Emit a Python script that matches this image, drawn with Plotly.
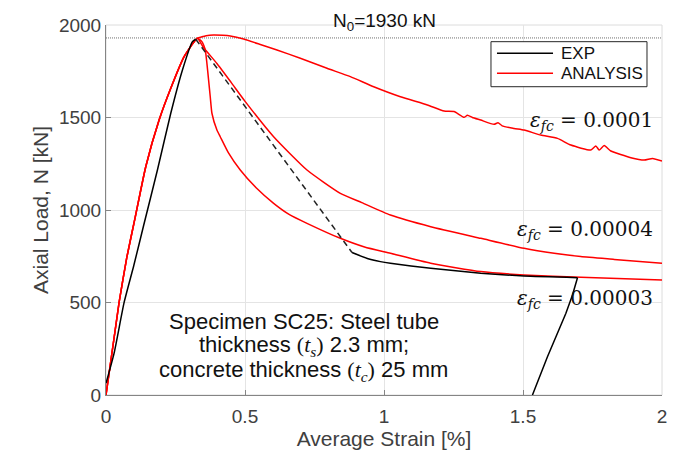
import plotly.graph_objects as go

# ---------------- data ----------------
N0 = 1930  # kN

# shared rising branch of the analysis curves
rise_strain = [0, 0.047, 0.075, 0.105, 0.143, 0.191, 0.233, 0.281, 0.317, 0.329]
rise_load = [0, 500, 745, 960, 1234, 1486, 1658, 1829, 1910, 1928]

# eps_fc = 0.0001
a1_strain = [0.345, 0.36, 0.387, 0.42, 0.447, 0.495, 0.555, 0.615, 0.699, 0.795, 0.879, 0.963,
             1.059, 1.156, 1.216, 1.252, 1.288, 1.30, 1.318, 1.348, 1.396, 1.41, 1.425, 1.468,
             1.504, 1.564, 1.624, 1.672, 1.744, 1.762, 1.774, 1.792, 1.816, 1.888, 1.936, 1.966, 2.0]
a1_load = [1936, 1942, 1946, 1944, 1940, 1924, 1895, 1865, 1820, 1766, 1721, 1666,
           1612, 1568, 1535, 1532, 1501, 1512, 1500, 1486, 1463, 1472, 1455, 1441,
           1432, 1405, 1387, 1351, 1324, 1346, 1324, 1348, 1319, 1283, 1270, 1279, 1265]

# eps_fc = 0.00004
a2_strain = [0.35, 0.399, 0.45, 0.501, 0.603, 0.723, 0.843, 0.92, 1.023, 1.168, 1.348,
             1.504, 1.612, 1.708, 1.828, 2.0]
a2_load = [1880, 1792, 1690, 1586, 1396, 1216, 1090, 1040, 973, 910, 847,
           793, 766, 748, 733, 712]

# eps_fc = 0.00003
a3_strain = [0.345, 0.357, 0.363, 0.369, 0.375, 0.381, 0.399, 0.411, 0.44, 0.483, 0.54,
             0.603, 0.66, 0.723, 0.843, 0.93, 1.023, 1.168, 1.348, 1.504, 1.708, 2.0]
a3_load = [1910, 1865, 1793, 1703, 1612, 1523, 1432, 1396, 1310, 1216, 1120,
           1036, 975, 928, 847, 800, 766, 712, 667, 649, 636, 622]

# experiment
exp_rise_strain = [0, 0.029, 0.065, 0.10, 0.136, 0.185, 0.233, 0.275, 0.311, 0.323]
exp_rise_load = [63, 225, 499, 700, 920, 1216, 1523, 1757, 1910, 1923]
exp_gap_strain = [0.323, 0.885]
exp_gap_load = [1923, 770]
exp_post_strain = [0.885, 0.94, 0.987, 1.023, 1.168, 1.348, 1.504, 1.696]
exp_post_load = [770, 738, 721, 712, 685, 658, 643, 634]
exp_unload_strain = [1.696, 1.678, 1.654, 1.588, 1.534]
exp_unload_load = [634, 541, 441, 207, 0]

x_ticks = [0, 0.5, 1, 1.5, 2]
x_ticktext = ["0", "0.5", "1", "1.5", "2"]
y_ticks = [0, 500, 1000, 1500, 2000]

eps_labels = ["0.0001", "0.00004", "0.00003"]
eps_label_load = [1482, 892, 519]

legend_names = ["EXP", "ANALYSIS"]

spec_lines = [
    "Specimen SC25: Steel tube",
    "thickness <span style='font-family:Liberation Serif'>(<i>t</i><sub><i>s</i></sub>)</span> 2.3 mm;",
    "concrete thickness <span style='font-family:Liberation Serif'>(<i>t</i><sub><i>c</i></sub>)</span> 25 mm",
]
spec_line_load = [400, 265, 128]

# ---------------- figure ----------------
RED = "#ff0000"
BLACK = "#000000"
fig = go.Figure()

# N0 reference line
fig.add_trace(go.Scatter(x=[x_ticks[0], x_ticks[-1]], y=[N0, N0], mode="lines",
                         line=dict(color="#707070", width=1, dash="1px,1px"),
                         showlegend=False, hoverinfo="skip"))

# Analysis curves
for s, l in [(a1_strain, a1_load), (a2_strain, a2_load), (a3_strain, a3_load)]:
    fig.add_trace(go.Scatter(x=rise_strain + s, y=rise_load + l, mode="lines",
                             name="ANALYSIS", showlegend=False,
                             line=dict(color=RED, width=1.5, shape="spline", smoothing=0.5)))

# EXP solid parts
fig.add_trace(go.Scatter(x=exp_rise_strain, y=exp_rise_load, mode="lines", name="EXP",
                         showlegend=False,
                         line=dict(color=BLACK, width=1.5, shape="spline", smoothing=0.5)))
fig.add_trace(go.Scatter(x=exp_post_strain, y=exp_post_load, mode="lines", name="EXP",
                         showlegend=False,
                         line=dict(color=BLACK, width=1.5, shape="spline", smoothing=0.5)))
fig.add_trace(go.Scatter(x=exp_unload_strain, y=exp_unload_load, mode="lines", name="EXP",
                         showlegend=False, line=dict(color=BLACK, width=1.5)))
# EXP dashed part
fig.add_trace(go.Scatter(x=exp_gap_strain, y=exp_gap_load, mode="lines", name="EXP",
                         showlegend=False,
                         line=dict(color="#222222", width=1.5, dash="6px,4px")))

annotations = []
# N0 label
annotations.append(dict(x=0.5, y=1.008, xref="paper", yref="paper",
                        text="N<sub>0</sub>=%d kN" % N0, showarrow=False,
                        xanchor="center", yanchor="middle",
                        font=dict(family="Liberation Sans, Arial", size=19, color="#111111")))
# eps labels
for lab, yv in zip(eps_labels, eps_label_load):
    annotations.append(dict(x=1.975, y=yv, xref="x", yref="y",
                            text="<i>ε</i><sub><i>fc</i></sub> = " + lab, showarrow=False,
                            xanchor="right", yanchor="middle",
                            font=dict(family="DejaVu Serif", size=20, color="#111111")))
# specimen text
for line, yv in zip(spec_lines, spec_line_load):
    annotations.append(dict(x=0.712, y=yv, xref="x", yref="y", text=line, showarrow=False,
                            xanchor="center", yanchor="middle",
                            font=dict(family="Liberation Sans, Arial", size=22, color="#111111")))
# manual legend (box drawn as shape, sample lines as shapes)
leg_text_y = [0.9235, 0.8695]
leg_colors = [BLACK, RED]
for name, yy in zip(legend_names, leg_text_y):
    annotations.append(dict(x=0.8147, y=yy, xref="paper", yref="paper", text=name,
                            showarrow=False, xanchor="left", yanchor="middle",
                            font=dict(family="Liberation Sans, Arial", size=17, color="#111111")))

shapes = [dict(type="rect", xref="paper", yref="paper", x0=0, y0=0, x1=1, y1=1,
               line=dict(color="#dcdcdc", width=1), layer="below"),
          dict(type="rect", xref="paper", yref="paper", x0=0.6924, y0=0.8332, x1=0.973, y1=0.9549,
               line=dict(color="#262626", width=1), fillcolor="white", layer="above")]
for c, yy in zip(leg_colors, leg_text_y):
    shapes.append(dict(type="line", xref="paper", yref="paper", x0=0.7032, x1=0.804, y0=yy, y1=yy,
                       line=dict(color=c, width=1.5), layer="above"))

axis_common = dict(showline=True, linecolor="#858585", linewidth=1, automargin=False,
                   ticks="inside", ticklen=5, tickcolor="#858585", tickwidth=1,
                   showgrid=True, gridcolor="#e4e4e4", gridwidth=1, zeroline=False,
                   tickfont=dict(family="Liberation Sans, Arial", size=19, color="#404040"),
                   mirror=False)

fig.update_layout(
    width=676, height=444,
    margin=dict(l=98, r=22, t=17, b=57),
    paper_bgcolor="white", plot_bgcolor="white",
    xaxis=dict(range=[0, 2], tickvals=x_ticks, ticktext=x_ticktext, ticklabelstandoff=4,
               title=dict(text="Average Strain [%]", standoff=1,
                          font=dict(family="Liberation Sans, Arial", size=21, color="#404040")),
               **axis_common),
    yaxis=dict(range=[0, 2000], tickvals=y_ticks,
               title=dict(text="Axial Load, N [kN]", standoff=4,
                          font=dict(family="Liberation Sans, Arial", size=21, color="#404040")),
               **axis_common),
    annotations=annotations,
    shapes=shapes,
    showlegend=False,
)

fig.write_html("out.html")
